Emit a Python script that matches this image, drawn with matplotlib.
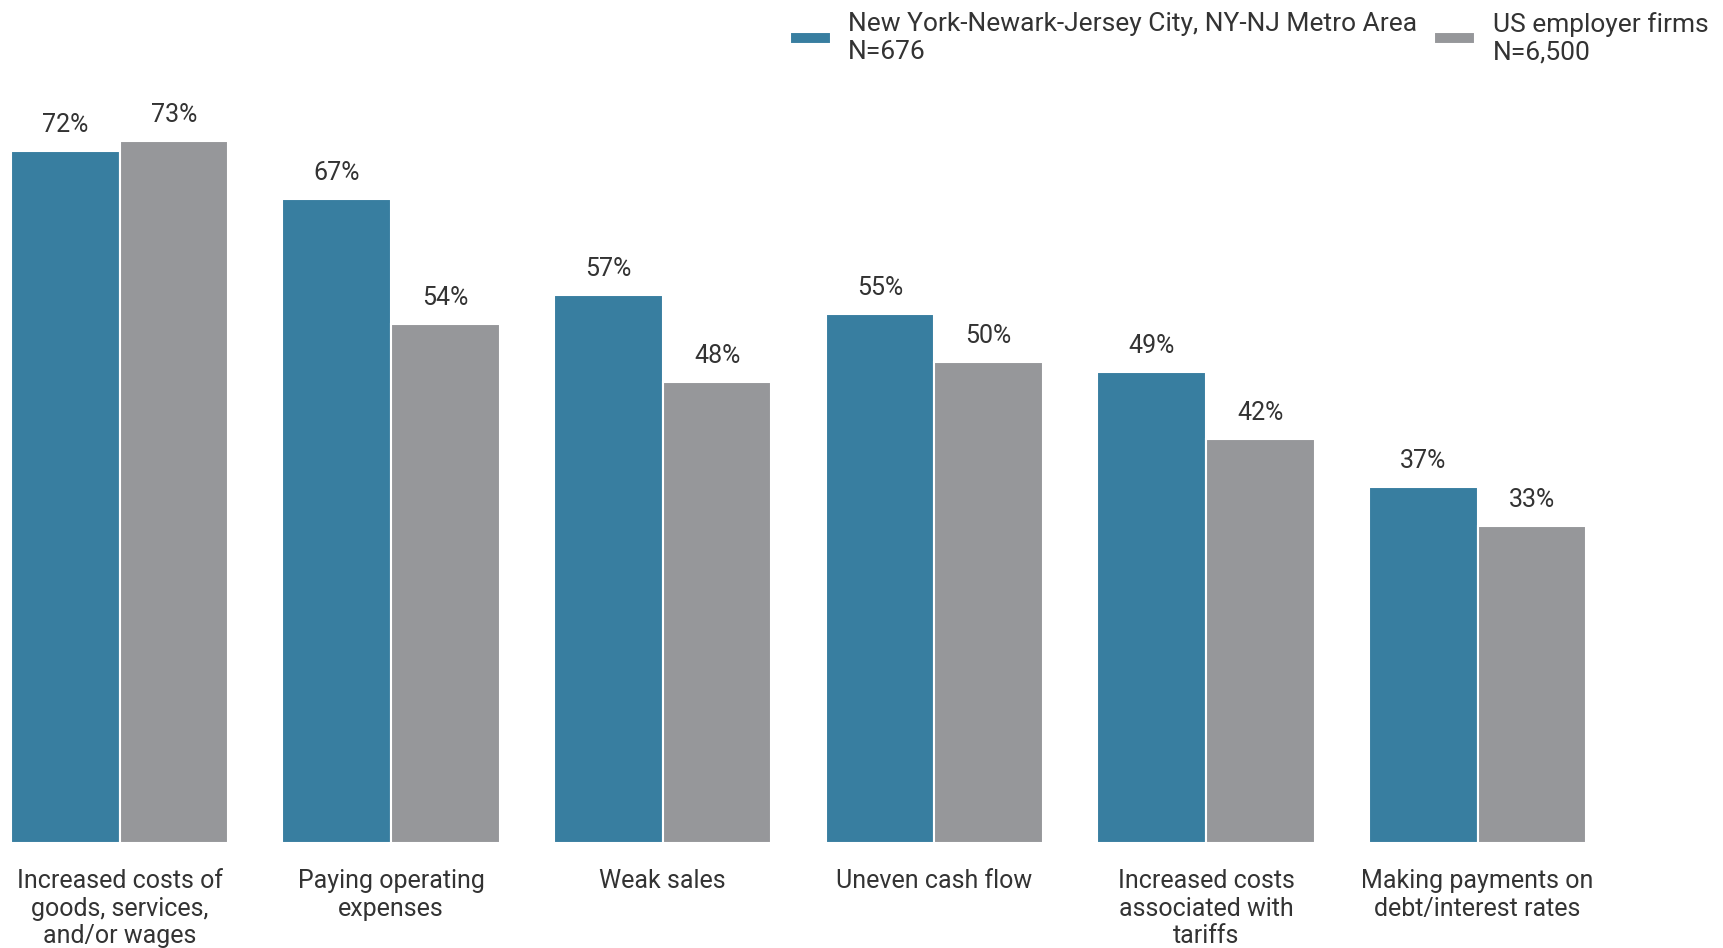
import matplotlib
matplotlib.use("Agg")
import matplotlib.pyplot as plt
import numpy as np

plt.rcParams['font.family'] = ['Roboto', 'DejaVu Sans']

categories = [
    "Increased costs of\ngoods, services,\nand/or wages",
    "Paying operating\nexpenses",
    "Weak sales",
    "Uneven cash flow",
    "Increased costs\nassociated with\ntariffs",
    "Making payments on\ndebt/interest rates",
]
ny_values = [72, 67, 57, 55, 49, 37]
us_values = [73, 54, 48, 50, 42, 33]
series_labels = ["New York-Newark-Jersey City, NY-NJ Metro Area\nN=676",
                 "US employer firms\nN=6,500"]

blue = "#387EA0"
gray = "#96979A"
text_color = "#333333"

fig = plt.figure(figsize=(17.24, 9.48), dpi=100)
ax = fig.add_axes([0, 105 / 948, 1, 769 / 948])

x = np.arange(len(categories))
w = 0.4
b1 = ax.bar(x - w / 2, ny_values, w, color=blue, edgecolor="white", linewidth=1.5, label=series_labels[0])
b2 = ax.bar(x + w / 2, us_values, w, color=gray, edgecolor="white", linewidth=1.5, label=series_labels[1])

for bars, vals in ((b1, ny_values), (b2, us_values)):
    for r, v in zip(bars, vals):
        ax.annotate(f"{v}%", (r.get_x() + r.get_width() / 2, v), xytext=(0, 10),
                    textcoords="offset points", ha="center", va="bottom",
                    fontsize=18, color=text_color)

ax.set_xlim(-0.44, 5.907)
ax.set_ylim(0, 80)
for s in ax.spines.values():
    s.set_visible(False)
ax.set_yticks([])
ax.set_xticks(x)
ax.set_xticklabels(categories, fontsize=18, color=text_color, linespacing=1.18)
ax.tick_params(axis="x", length=0, pad=19)

leg = fig.legend(handles=[b1, b2], labels=series_labels, loc="upper right",
                 bbox_to_anchor=(1.0, 1.0 + 4 / 948), ncol=2, frameon=False,
                 fontsize=19, handlelength=1.55, handleheight=0.35,
                 handletextpad=0.65, columnspacing=0.65, borderpad=0.1,
                 labelcolor=text_color)
for t in leg.get_texts():
    t.set_linespacing(1.19)

fig.savefig("out.png", dpi=100)
